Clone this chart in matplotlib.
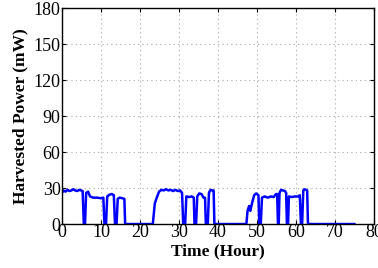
import matplotlib
matplotlib.use('Agg')
import matplotlib.pyplot as plt

# tijd (uur) en vermogen (mW)
tijd = [0, 0.4, 0.9, 1.4, 1.9, 2.4, 2.9, 3.4, 3.9, 4.4, 4.9, 5.3, 5.6, 5.9,
        6.2, 6.7, 7.2, 8.0, 9.0, 10.0, 10.6, 10.9, 11.3, 11.6, 12.2, 12.8,
        13.3, 13.6, 14.0, 14.3, 14.8, 15.5, 16.0, 16.2, 23.3, 23.8, 24.3,
        24.9, 25.5, 26.1, 26.7, 27.3, 27.9, 28.5, 29.1, 29.7, 30.3, 30.8,
        31.1, 31.6, 31.9, 32.6, 33.3, 33.8, 34.0, 34.4, 34.7, 35.2, 35.8,
        36.3, 36.7, 36.9, 37.4, 37.7, 38.1, 38.6, 38.9, 39.1, 47.3, 47.6,
        48.0, 48.3, 48.8, 49.3, 49.8, 50.4, 50.6, 51.0, 51.3, 52.0, 52.8,
        53.6, 54.3, 54.9, 55.2, 55.4, 55.6, 55.8, 56.2, 56.7, 57.2, 57.5,
        57.7, 58.0, 58.2, 59.0, 59.8, 60.6, 61.0, 61.3, 61.6, 61.9, 62.2,
        62.6, 62.9, 63.1, 75.0]
vermogen = [26, 28, 27, 28.5, 27.5, 28, 29, 28, 27.5, 28.5, 28, 27.5, 0, 0,
            26, 27, 23, 22, 22, 21.5, 22, 0, 0, 23, 24.5, 25,
            24, 0, 0, 21, 22, 21.5, 21, 0, 0, 17, 22,
            27, 28.5, 28, 29, 28, 28.5, 27.5, 28.5, 27.5, 28, 26,
            0, 0, 23, 22.5, 23, 22, 0, 0, 23, 25.5, 25,
            22, 22, 0, 0, 26, 28.5, 28, 28, 0, 0, 11,
            15, 11, 18, 24, 25.5, 24, 0, 0, 22, 23, 22,
            23, 22.5, 25, 25, 0, 0, 26, 28.5, 28, 27.5, 26,
            0, 0, 23, 22.5, 23, 23, 24, 0, 0, 28, 29,
            28.5, 28, 0, 0]

x_ticks = [0, 10, 20, 30, 40, 50, 60, 70, 80]
y_ticks = [0, 30, 60, 90, 120, 150, 180]

plt.rcParams['font.family'] = ['Liberation Serif', 'DejaVu Serif']

fig = plt.figure(figsize=(3.78, 2.68), dpi=100)
ax = fig.add_axes([0.164, 0.164, 0.825, 0.806])
ax.plot(tijd, vermogen, color='#0000ff', linewidth=1.8)

ax.set_xlim(0, 80)
ax.set_ylim(0, 180)
ax.set_xticks(x_ticks)
ax.set_yticks(y_ticks)
ax.tick_params(direction='in', top=True, right=True, labelsize=13, length=3, pad=1)
ax.tick_params(axis='x', pad=0)
ax.grid(True, linestyle=(0, (1, 3)), color='#a8a8a8', linewidth=0.8)
for s in ax.spines.values():
    s.set_linewidth(1.0)

ax.set_xlabel('Time (Hour)', fontsize=12.5, fontweight='bold', labelpad=2)
ax.set_ylabel('Harvested Power (mW)', fontsize=12.5, fontweight='bold', labelpad=4)

fig.savefig('out.png', dpi=100)
plt.close()
